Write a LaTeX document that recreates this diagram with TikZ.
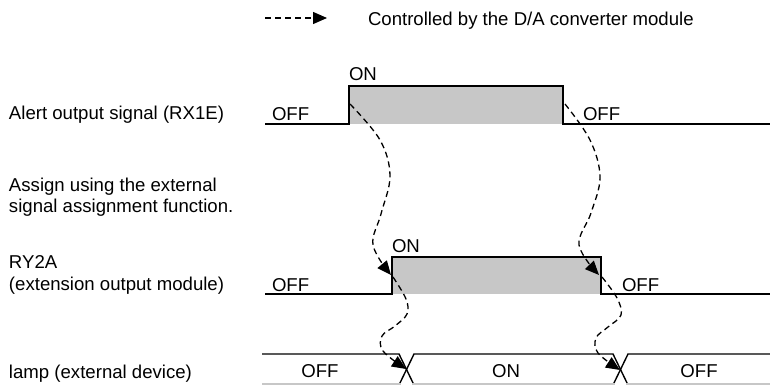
\documentclass[tikz,border=0pt]{standalone}
\usepackage{fontspec}
\setmainfont{Liberation Sans}
\usetikzlibrary{arrows.meta}
\definecolor{sigfill}{RGB}{199,199,199}
\begin{document}
\begin{tikzpicture}[x=1pt,y=-1pt,
  every node/.style={inner sep=0pt,outer sep=0pt,font=\fontsize{18.6}{22}\selectfont},
  lbl/.style={anchor=base west},
  clbl/.style={anchor=base},
  wave/.style={line width=1.4pt,line join=miter},
  ctrl/.style={line width=1.3pt,dash pattern=on 6pt off 4pt,-{Triangle[length=14pt,width=12pt]}},
  faint/.style={line width=1.2pt,draw=black!22}]
\useasboundingbox (0,0) rectangle (770,385);
% legend
\coordinate (legA) at (265,18);
\coordinate (legB) at (327,18);
\draw[ctrl] (legA) -- (legB);
\node[lbl] (legT) at (368,26) {Controlled by the D/A converter module};
% left labels
\node[lbl] (l1) at (9,119) {Alert output signal (RX1E)};
\node[lbl] (l2a) at (9,191) {Assign using the external};
\node[lbl] (l2b) at (9,212) {signal assignment function.};
\node[lbl] (l3a) at (9,268) {RY2A};
\node[lbl] (l3b) at (9,290) {(extension output module)};
\node[lbl] (l4) at (9,378) {lamp (external device)};
% signal 1
\fill[sigfill] (349,86) rectangle (563,124);
\draw[wave] (265,124) -- (349,124) -- (349,86) -- (563,86) -- (563,124) -- (770,124);
\node[lbl] (s1off) at (272,121) {OFF};
\node[lbl] (s1on) at (349,81) {ON};
\node[lbl] (s1off2) at (583,121) {OFF};
% signal 2
\fill[sigfill] (392,257) rectangle (601,294);
\draw[wave] (265,294) -- (392,294) -- (392,257) -- (601,257) -- (601,294) -- (770,294);
\node[lbl] (s2off) at (272,291) {OFF};
\node[lbl] (s2on) at (392,252) {ON};
\node[lbl] (s2off2) at (622,291) {OFF};
% signal 3 (lamp)
\draw[wave] (262,354) -- (399,354) -- (414,385);
\draw[wave] (399,385) -- (414,354) -- (613,354) -- (628,385);
\draw[wave] (613,385) -- (628,354) -- (770,354);
\draw[faint] (262,384) -- (401,384);
\draw[faint] (412,384) -- (615,384);
\draw[faint] (626,384) -- (770,384);
\node[clbl] (s3off) at (320,377) {OFF};
\node[clbl] (s3on) at (506,377) {ON};
\node[clbl] (s3off2) at (699,377) {OFF};
% edges
\coordinate (r1) at (350,104);
\coordinate (f1) at (565,104);
\coordinate (r2) at (391,275);
\coordinate (f2) at (599,275);
\coordinate (r2s) at (393,277);
\coordinate (f2s) at (602,277);
\coordinate (x1) at (406,369);
\coordinate (x2) at (620,370);
% control arrows
\draw[ctrl] plot[smooth,tension=0.6] coordinates {(r1) (380,140) (390,176) (381,214) (373,245) (r2)};
\draw[ctrl] plot[smooth,tension=0.6] coordinates {(f1) (590,140) (600,177) (591,213) (579,245) (f2)};
\draw[ctrl] plot[smooth,tension=0.6] coordinates {(r2s) (406,299) (407,314) (395,326) (382,336) (383,351) (x1)};
\draw[ctrl] plot[smooth,tension=0.6] coordinates {(f2s) (617,298) (621,315) (608,327) (596,338) (598,353) (x2)};
\end{tikzpicture}
\end{document}
